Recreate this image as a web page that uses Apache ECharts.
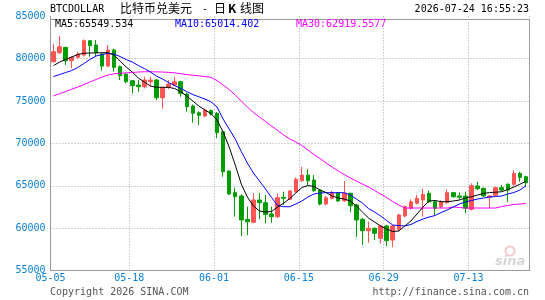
<!DOCTYPE html>
<html><head><meta charset="utf-8">
<script src="https://cdn.jsdelivr.net/npm/echarts@6/dist/echarts.min.js"></script>
<style>html,body{margin:0;padding:0;background:#fff}#c{width:545px;height:300px}</style>
</head><body><div id="c"></div>
<script>
const dates = [
'05-05','05-06','05-07','05-08','05-09','05-10','05-11','05-12','05-13','05-14','05-15','05-16','05-17',
'05-18','05-19','05-20','05-21','05-22','05-23','05-24','05-25','05-26','05-27','05-28','05-29','05-30','05-31',
'06-01','06-02','06-03','06-04','06-05','06-06','06-07','06-08','06-09','06-10','06-11','06-12','06-13','06-14',
'06-15','06-16','06-17','06-18','06-19','06-20','06-21','06-22','06-23','06-24','06-25','06-26','06-27','06-28',
'06-29','06-30','07-01','07-02','07-03','07-04','07-05','07-06','07-07','07-08','07-09','07-10','07-11','07-12',
'07-13','07-14','07-15','07-16','07-17','07-18','07-19','07-20','07-21','07-22'];
const xTickLabels = ['05-05','05-18','06-01','06-15','06-29','07-13'];
const yMin = 55000, yMax = 85000, yStep = 5000;

const opens = [79641,80703,81340,79759,80160,80430,82118,81610,80548,79134,81020,79051,78190,77400,76890,76690,77280,77484,75397,76620,
76890,77280,75830,74420,73630,73240,73870,73560,71390,66750,64200,63810,61060,60710,63340,63020,61685,61370,63650,63420,
64315,65610,66280,65690,64510,62860,63540,64200,63250,64125,62750,61060,59716,60000,58820,60270,58620,59880,61450,62360,
62950,63340,64125,63130,62550,63020,64200,63810,63810,62240,64990,64710,63650,63900,64790,65190,65190,66480,66080];
const closes = [80820,81410,79759,80160,80548,82118,81528,80703,79134,81020,78980,77990,77280,76810,76690,77484,77484,75397,76620,77000,
77280,75915,74336,73560,73320,73950,73475,71270,66670,64040,63725,60980,60780,63340,63020,61650,61370,63610,63540,64400,
65780,66280,65610,64430,62860,63610,64240,63220,64125,62660,60980,59716,60000,59410,60270,58540,60270,61570,62550,63130,
63540,64000,63130,62360,63130,64200,63725,63650,62360,65020,64670,63810,63810,64790,64510,64510,66480,66010,65375];
const lows = [79550,80548,79252,78862,80000,80230,80230,80230,78580,79000,78462,77484,77100,75915,76100,76500,76690,75125,74100,76400,
76800,75515,73750,72450,72180,73100,73300,70610,66080,63925,61370,59090,59210,60600,61060,60590,60660,61200,62750,63300,
64200,65500,65100,64300,62700,62700,63400,63130,63100,61885,59010,58030,58300,58620,58230,57910,57760,59600,61300,62200,
62800,61370,63000,61570,62400,62900,63600,63420,61770,62100,64510,63700,62360,63800,64400,63130,65000,65490,64900];
const highs = [81729,82671,81374,80313,80820,82282,82200,82200,80650,81610,81200,79200,78300,77500,77484,77873,77873,77600,76700,77484,
77873,77400,76000,74600,73800,74100,74000,73700,71500,66800,64790,64000,62550,64125,64125,63925,62550,64125,64315,64500,
66000,67260,66950,66280,64600,63800,64400,64300,65575,64200,62900,61200,60780,60100,60400,60400,60400,61700,62700,63420,
63925,64630,64430,63200,63300,64600,64300,64240,64315,65300,65490,64800,63900,64900,65100,65300,66870,66670,66200];

const ma5 = [79193,79606,79900,80195,80490,80643,80667,80690,80702,80702,80431,79724,79016,78427,77719,77248,76776,76623,76623,76623,
76481,76104,75597,75008,74418,73947,73534,72768,71353,69584,67462,65222,63689,62628,62039,61921,61980,62510,62982,63512,
64161,64809,65045,64927,64515,64220,63807,63571,63453,63218,62628,61921,61213,60742,60270,59916,59622,59681,60270,60860,
61685,62510,63218,63277,63135,63135,63218,63336,63571,63725,63925,64102,64220,64255,64314,64573,64868,65200,65549.534];
const ma10 = [77896,78132,78368,78604,78957,79429,79900,80313,80490,80631,80549,80254,79900,79606,79193,78839,78427,77955,77601,77189,
76835,76481,76128,75774,75503,75243,74913,74300,72885,71706,70527,69054,67698,66519,65576,64632,63630,62687,62546,62546,
62864,63218,63689,64043,64161,64196,64196,64196,64196,63925,63453,62982,62333,61921,61449,60919,60388,60329,60270,60447,
60801,61095,61331,61508,61862,62157,62510,62864,63100,63277,63453,63571,63689,63748,63807,64043,64220,64515,65014.402];
const ma30 = [75621,75880,76128,76399,76658,76953,77248,77542,77837,78073,78215,78285,78332,78380,78427,78462,78462,78450,78427,78391,
78332,78226,78132,78049,77979,77896,77802,77425,76894,76363,75715,75008,74300,73652,73121,72591,72060,71530,70999,70527,
70174,69761,69231,68700,68228,67698,67226,66755,66342,65929,65576,65222,64868,64456,64043,63630,63159,62746,62392,62392,
62392,62392,62392,62392,62392,62392,62510,62451,62392,62392,62392,62392,62392,62392,62569,62687,62805,62860,62919.5577];

const maLabels = ['MA5:65549.534','MA10:65014.402','MA30:62919.5577'];
const titleCode = 'BTCDOLLAR';
const timeStamp = '2026-07-24 16:55:23';

const mono = "'DejaVu Sans Mono', monospace";
const cjk = "'Noto Sans CJK SC', sans-serif";
const blueLbl = '#0b7fd4';
const up = '#ff5454', down = '#009c00';
const gridColor = '#aaaaaa';

const candle = dates.map((d, i) => [opens[i], closes[i], lows[i], highs[i]]);

const chart = echarts.init(document.getElementById('c'), null, {renderer: 'canvas'});
chart.setOption({
  animation: false,
  backgroundColor: '#fff',
  grid: {left: 50.5, right: 16, top: 16.3, bottom: 29.3},
  xAxis: {
    type: 'category', data: dates, boundaryGap: true,
    axisLine: {lineStyle: {color: '#999', width: 1}},
    axisTick: {show: false},
    axisLabel: {
      interval: (i, v) => xTickLabels.includes(v),
      color: blueLbl, fontFamily: mono, fontSize: 10, margin: 3,
      padding: [0, 6, 0, 0]
    },
    splitLine: {show: true, interval: (i, v) => i > 0 && xTickLabels.includes(v),
      lineStyle: {color: gridColor, width: 1, type: [1, 2]}}
  },
  yAxis: {
    type: 'value', min: yMin, max: yMax, interval: yStep,
    axisLine: {show: true, lineStyle: {color: '#999', width: 1}},
    axisTick: {show: false},
    axisLabel: {color: blueLbl, fontFamily: mono, fontSize: 10, margin: 5, padding: [0, 0, 3, 0],
      formatter: v => String(v)},
    splitLine: {show: true, showMinLine: false, showMaxLine: false,
      lineStyle: {color: gridColor, width: 1, type: [1, 2]}}
  },
  series: [
    {type: 'candlestick', data: candle, barWidth: 4, silent: true,
      itemStyle: {color: up, color0: down, borderColor: up, borderColor0: down, borderWidth: 1}},
    {type: 'line', data: ma30, symbol: 'none', silent: true, lineStyle: {color: '#ff00ff', width: 1}, z: 3},
    {type: 'line', data: ma10, symbol: 'none', silent: true, lineStyle: {color: '#0000ff', width: 1}, z: 4},
    {type: 'line', data: ma5, symbol: 'none', silent: true, lineStyle: {color: '#000000', width: 1}, z: 5}
  ],
  graphic: [
    {type: 'line', shape: {x1: 50.5, y1: 19.5, x2: 529.5, y2: 19.5}, style: {stroke: '#999', lineWidth: 1}, silent: true},
    {type: 'line', shape: {x1: 529.5, y1: 19.5, x2: 529.5, y2: 271}, style: {stroke: '#999', lineWidth: 1}, silent: true},
    {type: 'text', left: 50, top: 4, style: {text: titleCode, font: '10px ' + mono, fill: '#000'}},
    {type: 'text', left: 120, top: 2, style: {text: '比特币兑美元', font: '12px ' + cjk, fill: '#000'}},
    {type: 'text', left: 202, top: 4, style: {text: '-', font: '10px ' + mono, fill: '#000'}},
    {type: 'text', left: 214, top: 2, style: {text: '日', font: '12px ' + cjk, fill: '#000'}},
    {type: 'text', left: 228, top: 2, style: {text: 'K', font: 'bold 12px ' + cjk, fill: '#000'}},
    {type: 'text', left: 240, top: 2, style: {text: '线图', font: '12px ' + cjk, fill: '#000'}},
    {type: 'text', right: 16, top: 4, style: {text: timeStamp, font: '10px ' + mono, fill: '#000'}},
    {type: 'text', left: 55, top: 19, style: {text: maLabels[0], font: '10px ' + mono, fill: '#000'}},
    {type: 'text', left: 175, top: 19, style: {text: maLabels[1], font: '10px ' + mono, fill: '#0000ff'}},
    {type: 'text', left: 296, top: 19, style: {text: maLabels[2], font: '10px ' + mono, fill: '#ff00ff'}},
    {type: 'text', left: 50, top: 287, style: {text: 'Copyright 2026 SINA.COM', font: '10px ' + mono, fill: '#555'}},
    {type: 'text', right: 16, top: 287, style: {text: 'http://finance.sina.com.cn', font: '10px ' + mono, fill: '#555'}},
    {type: 'circle', shape: {cx: 510, cy: 251, r: 4.5}, style: {fill: 'none', stroke: '#f6caca', lineWidth: 2}, silent: true},
    {type: 'text', left: 495, top: 255, style: {text: 'sina', font: 'italic bold 13px ' + "'DejaVu Sans', sans-serif", fill: '#d6d6d6'}}
  ]
});
</script></body></html>
